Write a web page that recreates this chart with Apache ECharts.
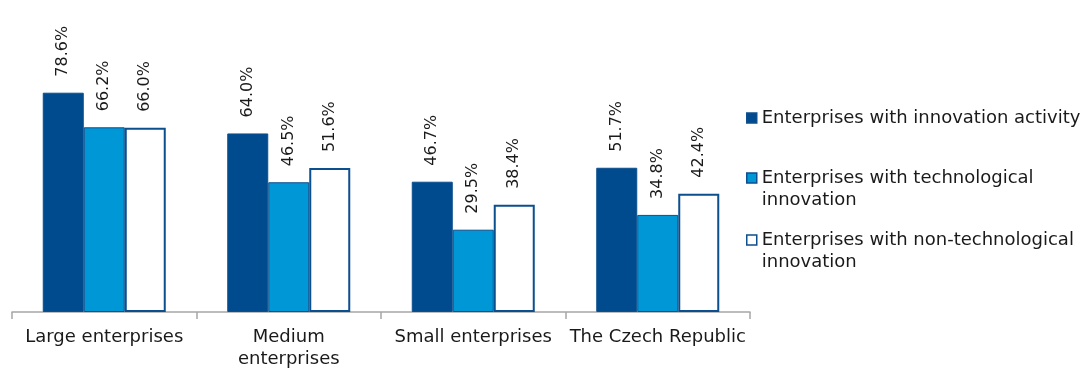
<!DOCTYPE html>
<html>
<head>
<meta charset="utf-8">
<script src="https://cdn.jsdelivr.net/npm/echarts@6/dist/echarts.min.js"></script>
<style>
  html, body { margin: 0; padding: 0; background: #ffffff; }
  #chart { width: 1092px; height: 370px; }
</style>
</head>
<body>
<div id="chart"></div>
<script>
// Share of enterprises with innovation activity by size class (%)
const categories = ['Large enterprises', 'Medium\nenterprises', 'Small enterprises', 'The Czech Republic'];
const seriesNames = [
  'Enterprises with innovation activity',
  'Enterprises with technological innovation',
  'Enterprises with non-technological innovation'
];
const innovationActivity = [78.6, 64.0, 46.7, 51.7];
const technologicalInnovation = [66.2, 46.5, 29.5, 34.8];
const nonTechnologicalInnovation = [66.0, 51.6, 38.4, 42.4];

const FONT = '"DejaVu Sans", Verdana, sans-serif';
const BORDER = '#0b4f8f';
const fills = ['#004b8d', '#0097d7', '#ffffff'];
const values = [innovationActivity, technologicalInnovation, nonTechnologicalInnovation];
// Two-line entries get a leading blank line so the swatch sits beside the first line
const legendLabels = [
  'Enterprises with innovation activity',
  '\nEnterprises with technological\ninnovation',
  '\nEnterprises with non-technological\ninnovation'
];
const legendTops = [107, 145, 207];

const chart = echarts.init(document.getElementById('chart'), null, { renderer: 'canvas' });

chart.setOption({
  animation: false,
  grid: { left: 12, right: 342, top: 33, bottom: 57, containLabel: false },
  xAxis: {
    type: 'category',
    data: categories,
    axisLine: { lineStyle: { color: '#a6a6a6', width: 1.5 } },
    axisTick: { show: true, length: 7, lineStyle: { color: '#a6a6a6', width: 1.5 } },
    axisLabel: {
      color: '#1a1a1a', fontFamily: FONT, fontSize: 18, lineHeight: 22,
      margin: 14, interval: 0
    }
  },
  yAxis: { type: 'value', min: 0, max: 100, show: false },
  legend: seriesNames.map((name, i) => ({
    orient: 'vertical',
    left: 746,
    top: legendTops[i],
    padding: 0,
    itemWidth: 10,
    itemHeight: 10,
    itemGap: 0,
    selectedMode: true,
    formatter: () => legendLabels[i],
    textStyle: {
      color: '#1a1a1a', fontFamily: FONT, fontSize: 18, lineHeight: 22
    },
    data: [{ name: name, icon: 'rect', itemStyle: { borderColor: BORDER, borderWidth: 1.5 } }]
  })),
  series: seriesNames.map((name, i) => ({
    name: name,
    type: 'bar',
    data: values[i],
    barWidth: 41,
    barGap: '0%',
    itemStyle: { color: fills[i], borderColor: BORDER, borderWidth: i === 2 ? 2 : 1 },
    label: {
      show: true,
      position: 'top',
      distance: 16,
      rotate: 90,
      align: 'left',
      verticalAlign: 'middle',
      color: '#1a1a1a',
      fontFamily: FONT,
      fontSize: 16,
      formatter: p => p.value.toFixed(1) + '%'
    }
  }))
});
</script>
</body>
</html>
